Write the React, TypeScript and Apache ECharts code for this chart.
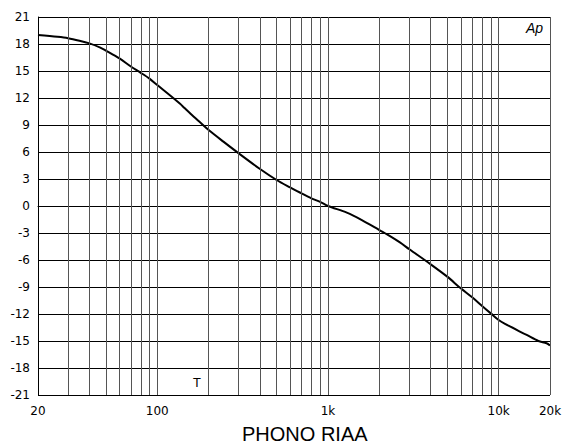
import React, { useEffect, useRef } from "react";
import * as echarts from "echarts";

const freqs = [20, 26, 30, 35, 40, 46, 50, 60, 70, 80, 90, 100, 124, 136, 145, 163, 178, 200, 244, 300, 400, 500, 600, 700, 800, 900, 1000, 1290, 1580, 2000, 2310, 2640, 3000, 4000, 5000, 6000, 7000, 8000, 9000, 10000, 10900, 14600, 17100, 19100, 20000];
const levels = [19.0, 18.8, 18.65, 18.37, 18.07, 17.63, 17.26, 16.4, 15.5, 14.8, 14.15, 13.44, 12.0, 11.35, 10.85, 9.95, 9.3, 8.44, 7.15, 5.85, 4.11, 2.89, 2.07, 1.41, 0.85, 0.45, 0.0, -0.74, -1.56, -2.67, -3.35, -4.05, -4.81, -6.48, -7.85, -9.15, -10.15, -11.1, -11.93, -12.67, -13.1, -14.33, -15.0, -15.25, -15.5];
const gridFreqs = [30, 40, 50, 60, 70, 80, 90, 100, 200, 300, 400, 500, 600, 700, 800, 900, 1000, 2000, 3000, 4000, 5000, 6000, 7000, 8000, 9000, 10000, 20000];
const title = "PHONO RIAA";

export default function App() {
  const ref = useRef<HTMLDivElement>(null);
  useEffect(() => {
    const chart = echarts.init(ref.current!, null, { renderer: "svg" });
    const labelFont = { fontFamily: "DejaVu Sans", fontSize: 12, color: "#000" };
    chart.setOption({
      animation: false,
      backgroundColor: "#fff",
      title: {
        text: title,
        left: 242,
        top: 424,
        padding: 0,
        textStyle: { fontFamily: "Liberation Sans", fontSize: 20, fontWeight: "normal", color: "#000" },
      },
      grid: { left: 38, right: 24, top: 17, bottom: 53, containLabel: false },
      xAxis: {
        type: "log",
        logBase: 10,
        min: 20,
        max: 20000,
        axisLine: { show: true, lineStyle: { color: "#000", width: 1 } },
        axisTick: { show: false },
        splitLine: { show: false },
        minorTick: { show: false },
        axisLabel: {
          ...labelFont,
          margin: 10,
          showMinLabel: true,
          showMaxLabel: true,
          formatter: (v: number) => {
            const r = Math.round(v);
            return r >= 1000 ? Math.round(r / 1000) + "k" : String(r);
          },
        },
      },
      yAxis: {
        type: "value",
        min: -21,
        max: 21,
        interval: 3,
        axisLine: { show: true, lineStyle: { color: "#000", width: 1 } },
        axisTick: { show: false },
        splitLine: { show: true, lineStyle: { color: "#000", width: 1 } },
        axisLabel: { ...labelFont, margin: 8 },
      },
      series: [
        {
          type: "line",
          data: [],
          z: 1,
          markLine: {
            silent: true,
            symbol: ["none", "none"],
            label: { show: false },
            lineStyle: { type: "solid", color: "#555", width: 1 },
            emphasis: { disabled: true },
            data: gridFreqs.map((f) => ({ xAxis: f })),
          },
        },
        {
          type: "line",
          z: 3,
          showSymbol: false,
          smooth: 0.3,
          lineStyle: { color: "#000", width: 2 },
          data: freqs.map((f, i) => [f, levels[i]]),
        },
      ],
      graphic: [
        {
          type: "text",
          x: 197,
          y: 383,
          style: { text: "T", fontFamily: "DejaVu Sans", fontSize: 12, fill: "#000", textAlign: "center", textVerticalAlign: "middle" },
        },
        {
          type: "text",
          x: 543,
          y: 28,
          style: { text: "Ap", fontFamily: "Liberation Sans", fontStyle: "italic", fontSize: 14, fill: "#000", textAlign: "right", textVerticalAlign: "middle" },
        },
      ],
    });
    return () => chart.dispose();
  }, []);
  return <div ref={ref} style={{ position: "fixed", left: 0, top: 0, width: 574, height: 448 }} />;
}
